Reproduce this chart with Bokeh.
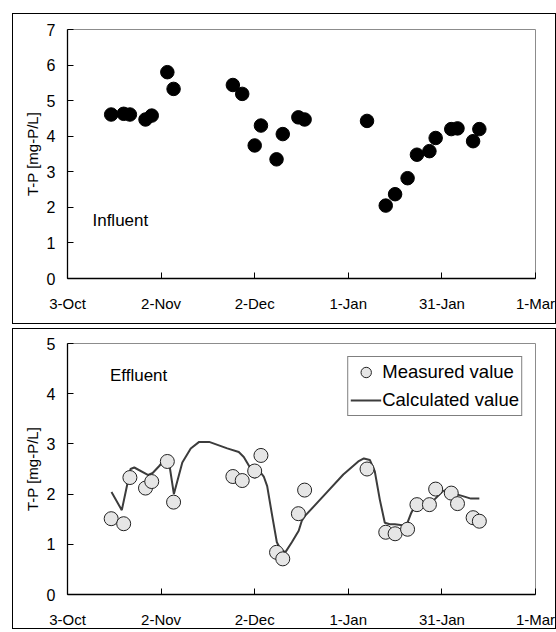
import pandas as pd
from bokeh.plotting import figure
from bokeh.models import Range1d, FixedTicker, Label, Legend, LegendItem, Spacer
from bokeh.layouts import column, row
from bokeh.embed import file_html
from bokeh.resources import INLINE

FONT = "Liberation Sans"

# ---- data -------------------------------------------------------------
start_date = "2003-10-03"
tick_dates = ["2003-10-03", "2003-11-02", "2003-12-02", "2004-01-01", "2004-01-31", "2004-03-01"]
tick_labels = ["3-Oct", "2-Nov", "2-Dec", "1-Jan", "31-Jan", "1-Mar"]

sample_dates = ["2003-10-17", "2003-10-21", "2003-10-23", "2003-10-28", "2003-10-30",
                "2003-11-04", "2003-11-06", "2003-11-25", "2003-11-28", "2003-12-02",
                "2003-12-04", "2003-12-09", "2003-12-11", "2003-12-16", "2003-12-18",
                "2004-01-07", "2004-01-13", "2004-01-16", "2004-01-20", "2004-01-23",
                "2004-01-27", "2004-01-29", "2004-02-03", "2004-02-05", "2004-02-10",
                "2004-02-12"]

influent_tp = [4.61, 4.63, 4.61, 4.47, 4.58, 5.80, 5.33, 5.44, 5.19, 3.74, 4.30, 3.35, 4.06,
               4.53, 4.47, 4.43, 2.05, 2.37, 2.82, 3.48, 3.58, 3.95, 4.20, 4.22, 3.86, 4.20]

effluent_measured = [1.51, 1.41, 2.33, 2.12, 2.25, 2.65, 1.84, 2.35, 2.27, 2.46, 2.77, 0.84, 0.71,
                     1.61, 2.08, 2.50, 1.24, 1.21, 1.30, 1.79, 1.79, 2.10, 2.02, 1.81, 1.53, 1.46]

# calculated curve: days after start_date, value
calc_day = [14.1, 17.4, 20.2, 21.4, 25.9, 27.3, 29.4, 31.5, 32.6, 34.1, 36.8, 39.5, 42.2, 45.4,
            51.2, 54.9, 56.5, 58.3, 60.0, 61.3, 62.9, 64.0, 65.6, 67.1, 68.2, 69.8, 71.9, 74.1,
            75.1, 76.2, 82.0, 88.4, 93.2, 95.0, 96.9, 98.5, 100.1, 101.7, 103.3, 104.9, 108.6,
            110.2, 111.3, 113.4, 117.1, 120.3, 121.9, 124.0, 126.7, 129.3, 132.0]
calc_value = [2.04, 1.68, 2.50, 2.53, 2.38, 2.42, 2.56, 2.71, 2.61, 2.00, 2.63, 2.91, 3.04, 3.04,
              2.91, 2.84, 2.74, 2.55, 2.32, 2.48, 2.35, 2.16, 1.57, 1.04, 0.91, 0.84, 1.04, 1.27,
              1.47, 1.57, 1.96, 2.39, 2.65, 2.71, 2.68, 2.45, 1.89, 1.43, 1.40, 1.40, 1.37,
              1.63, 1.76, 1.80, 1.86, 2.06, 2.09, 2.01, 1.96, 1.91, 1.91]

# ---- helpers ------------------------------------------------------------
t0 = pd.Timestamp(start_date)
def days(ds):
    return [int((pd.Timestamp(d) - t0).days) for d in ds]

sample_x = days(sample_dates)
tick_x = days(tick_dates)
overrides = {t: lab for t, lab in zip(tick_x, tick_labels)}


def style(p, ymax, ylabel_standoff):
    p.x_range = Range1d(tick_x[0], tick_x[-1])
    p.y_range = Range1d(0, ymax)
    p.xgrid.visible = False
    p.ygrid.visible = False
    p.outline_line_color = "#8c8c8c"
    p.outline_line_width = 1
    p.background_fill_color = "white"
    p.border_fill_color = "white"

    xa = p.xaxis[0]
    xa.ticker = FixedTicker(ticks=tick_x)
    xa.major_label_overrides = overrides
    xa.axis_line_color = "black"
    xa.axis_line_width = 1.3
    xa.major_tick_in = 6
    xa.major_tick_out = 0
    xa.major_tick_line_color = "black"
    xa.minor_tick_line_color = None
    xa.major_label_standoff = 16
    xa.major_label_text_font = FONT
    xa.major_label_text_font_size = "15px"
    xa.major_label_text_color = "black"

    ya = p.yaxis[0]
    ya.ticker = FixedTicker(ticks=list(range(0, ymax + 1)))
    ya.axis_line_color = "black"
    ya.axis_line_width = 1.3
    ya.major_tick_in = 6
    ya.major_tick_out = 0
    ya.major_tick_line_color = "black"
    ya.minor_tick_line_color = None
    ya.major_label_standoff = 12
    ya.major_label_text_font = FONT
    ya.major_label_text_font_size = "16px"
    ya.major_label_text_color = "black"
    ya.axis_label = "T-P [mg-P/L]"
    ya.axis_label_text_font = FONT
    ya.axis_label_text_font_size = "15px"
    ya.axis_label_text_font_style = "normal"
    ya.axis_label_text_color = "black"
    ya.axis_label_standoff = ylabel_standoff


# ---- top panel: influent ------------------------------------------------
p1 = figure(width=544, height=311, output_backend="svg", toolbar_location=None,
            min_border_left=54, min_border_right=22, min_border_top=15, min_border_bottom=47)
style(p1, 7, 3)
p1.scatter(sample_x, influent_tp, size=13.5, marker="circle",
           fill_color="black", line_color="black")
p1.add_layout(Label(x=8, y=1.63, text="Influent", text_font=FONT, text_font_size="17px",
                    text_baseline="middle", text_align="left", text_color="black"))
p1.styles = {"border": "1px solid black"}

# ---- bottom panel: effluent ---------------------------------------------
p2 = figure(width=544, height=301, output_backend="svg", toolbar_location=None,
            min_border_left=52, min_border_right=22, min_border_top=14, min_border_bottom=32)
style(p2, 5, 3)
r_line = p2.line(calc_day, calc_value, line_color="#3c3c3c", line_width=2)
r_pts = p2.scatter(sample_x, effluent_measured, size=14, marker="circle",
                   fill_color="#e6e6e6", line_color="#222222", line_width=1)
p2.add_layout(Label(x=13.6, y=4.37, text="Effluent", text_font=FONT, text_font_size="17px",
                    text_baseline="middle", text_align="left", text_color="black"))
legend = Legend(items=[LegendItem(label="Measured value", renderers=[r_pts]),
                       LegendItem(label="Calculated value", renderers=[r_line])],
                location="top_right", margin=13, padding=2, spacing=2,
                glyph_width=31, glyph_height=26, label_height=26, label_standoff=1,
                label_text_font=FONT, label_text_font_size="18.5px", label_text_color="black",
                border_line_color="black", border_line_width=1,
                background_fill_color="white", background_fill_alpha=1)
p2.add_layout(legend)
p2.styles = {"border": "1px solid black"}

layout = row(Spacer(width=12, height=10),
             column(Spacer(width=10, height=13), p1, Spacer(width=10, height=4), p2))
open("out.html", "w").write(file_html(layout, INLINE))
